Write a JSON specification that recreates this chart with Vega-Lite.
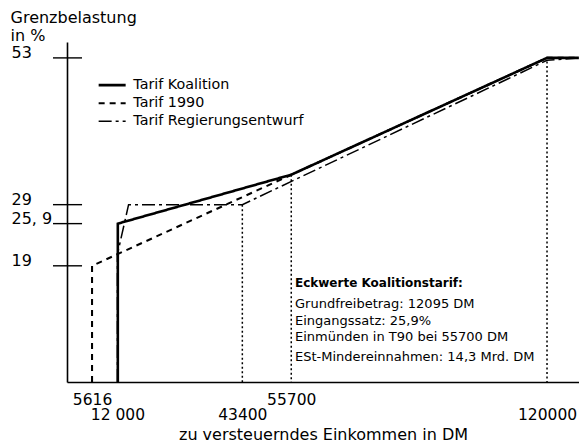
{
  "$schema": "https://vega.github.io/schema/vega-lite/v6.json",
  "width": 512,
  "height": 340,
  "autosize": "none",
  "padding": {"left": 67, "top": 42, "right": 0, "bottom": 65},
  "background": "white",
  "config": {
    "font": "DejaVu Sans",
    "view": {"stroke": null}
  },
  "datasets": {
    "tarife": [
      {"tarif": "Tarif 1990", "i": 1, "einkommen": 5616, "satz": 0},
      {"tarif": "Tarif 1990", "i": 2, "einkommen": 5616, "satz": 19},
      {"tarif": "Tarif 1990", "i": 3, "einkommen": 120000, "satz": 53},
      {"tarif": "Tarif 1990", "i": 4, "einkommen": 128000, "satz": 53},
      {"tarif": "Tarif Regierungsentwurf", "i": 1, "einkommen": 12000, "satz": 0},
      {"tarif": "Tarif Regierungsentwurf", "i": 2, "einkommen": 12000, "satz": 20.9},
      {"tarif": "Tarif Regierungsentwurf", "i": 3, "einkommen": 14800, "satz": 29},
      {"tarif": "Tarif Regierungsentwurf", "i": 4, "einkommen": 43400, "satz": 29},
      {"tarif": "Tarif Regierungsentwurf", "i": 5, "einkommen": 120000, "satz": 52.6},
      {"tarif": "Tarif Regierungsentwurf", "i": 6, "einkommen": 128000, "satz": 53},
      {"tarif": "Tarif Koalition", "i": 1, "einkommen": 12095, "satz": 0},
      {"tarif": "Tarif Koalition", "i": 2, "einkommen": 12095, "satz": 25.9},
      {"tarif": "Tarif Koalition", "i": 3, "einkommen": 55700, "satz": 33.9},
      {"tarif": "Tarif Koalition", "i": 4, "einkommen": 120000, "satz": 53},
      {"tarif": "Tarif Koalition", "i": 5, "einkommen": 128000, "satz": 53}
    ],
    "marken": [
      {"einkommen": 43400, "satz": 29},
      {"einkommen": 55700, "satz": 33.9},
      {"einkommen": 120000, "satz": 52.4}
    ],
    "ystriche": [
      {"satz": 19},
      {"satz": 25.9},
      {"satz": 29},
      {"satz": 53}
    ]
  },
  "layer": [
    {
      "data": {"name": "tarife"},
      "mark": {"type": "line", "color": "black", "strokeCap": "butt", "clip": false},
      "encoding": {
        "x": {
          "field": "einkommen", "type": "quantitative",
          "scale": {"domain": [-680, 128040], "nice": false, "zero": false},
          "axis": {
            "values": [5616, 12000, 43400, 55700, 120000],
            "format": "d",
            "labelExpr": "datum.value == 12000 ? ['', '12 000'] : (datum.value == 43400 || datum.value == 120000) ? ['', datum.label] : datum.label",
            "labelLineHeight": 15.5,
            "ticks": false,
            "grid": false,
            "domainWidth": 1.6, "domainColor": "black",
            "labelColor": "black",
            "labelFontSize": 15.5,
            "labelBaseline": "alphabetic",
            "labelPadding": 22,
            "labelOverlap": false,
            "title": "zu versteuerndes Einkommen in DM",
            "titleColor": "black",
            "titleFontSize": 16, "titleFontWeight": "normal",
            "titleBaseline": "alphabetic", "titleY": 57
          }
        },
        "y": {
          "field": "satz", "type": "quantitative",
          "scale": {"domain": [0, 55.6], "nice": false, "zero": false},
          "axis": {
            "values": [19, 25.9, 29, 53],
            "labelExpr": "datum.value == 25.9 ? '25, 9' : datum.label",
            "ticks": false,
            "grid": false,
            "domainWidth": 1.6, "domainColor": "black",
            "labelColor": "black",
            "labelFontSize": 16,
            "labelAlign": "left", "labelBaseline": "alphabetic", "labelPadding": 56,
            "labelOverlap": false,
            "title": ["Grenzbelastung", "in %"],
            "titleColor": "black",
            "titleFontSize": 16, "titleFontWeight": "normal",
            "titleAngle": 0, "titleAlign": "left", "titleBaseline": "alphabetic",
            "titleX": -57, "titleY": -20
          }
        },
        "order": {"field": "i", "type": "quantitative"},
        "strokeDash": {
          "field": "tarif", "type": "nominal",
          "scale": {"domain": ["Tarif Koalition", "Tarif 1990", "Tarif Regierungsentwurf"], "range": [[1, 0], [6, 5], [13, 4, 3, 4]]},
          "legend": {
            "orient": "none", "legendX": 38, "legendY": 36, "title": null,
            "symbolType": "M-3,0H3", "symbolSize": 81, "symbolStrokeColor": "black",
            "labelFontSize": 14.3, "labelColor": "black", "labelLimit": 400,
            "labelOffset": 14, "rowPadding": 3, "padding": 0
          }
        },
        "strokeWidth": {
          "field": "tarif", "type": "nominal",
          "scale": {"domain": ["Tarif Koalition", "Tarif 1990", "Tarif Regierungsentwurf"], "range": [2.6, 1.5, 1.4]},
          "legend": {
            "orient": "none", "legendX": 38, "legendY": 36, "title": null,
            "symbolType": "M-3,0H3", "symbolSize": 81, "symbolStrokeColor": "black",
            "labelFontSize": 14.3, "labelColor": "black", "labelLimit": 400,
            "labelOffset": 14, "rowPadding": 3, "padding": 0
          }
        }
      }
    },
    {
      "data": {"name": "marken"},
      "mark": {"type": "rule", "color": "black", "strokeWidth": 1.5, "strokeDash": [2, 2.5]},
      "encoding": {
        "x": {"field": "einkommen", "type": "quantitative"},
        "y": {"field": "satz", "type": "quantitative"},
        "y2": {"datum": 0}
      }
    },
    {
      "data": {"name": "ystriche"},
      "mark": {"type": "rule", "color": "black", "strokeWidth": 1.4, "clip": false},
      "encoding": {
        "y": {"field": "satz", "type": "quantitative"},
        "x": {"datum": -4200},
        "x2": {"datum": 3100}
      }
    },
    {
      "data": {"values": [{"notiz": "Eckwerte Koalitionstarif:"}]},
      "mark": {"type": "text", "align": "left", "baseline": "alphabetic", "fontWeight": "bold", "fontSize": 12, "color": "black"},
      "encoding": {
        "text": {"field": "notiz"},
        "x": {"datum": 56640},
        "y": {"datum": 15.54}
      }
    },
    {
      "data": {"values": [{"notiz": "Grundfreibetrag: 12095 DM|Eingangssatz: 25,9%|Einmünden in T90 bei 55700 DM"}]},
      "mark": {"type": "text", "align": "left", "baseline": "alphabetic", "fontSize": 13, "lineBreak": "|", "lineHeight": 16.5, "color": "black"},
      "encoding": {
        "text": {"field": "notiz"},
        "x": {"datum": 56640},
        "y": {"datum": 12.1}
      }
    },
    {
      "data": {"values": [{"notiz": "ESt-Mindereinnahmen: 14,3 Mrd. DM"}]},
      "mark": {"type": "text", "align": "left", "baseline": "alphabetic", "fontSize": 13, "color": "black"},
      "encoding": {
        "text": {"field": "notiz"},
        "x": {"datum": 56640},
        "y": {"datum": 3.44}
      }
    }
  ]
}
